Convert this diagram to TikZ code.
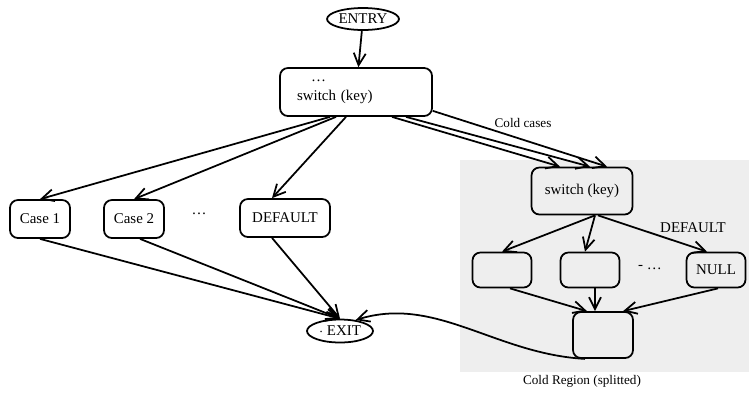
\documentclass[tikz,border=0pt]{standalone}
\usepackage{fontspec}
\setmainfont{Liberation Serif}
\usetikzlibrary{arrows.meta, calc, shapes.geometric}

\begin{document}
\begin{tikzpicture}[x=0.02cm, y=-0.02cm,
	box/.style={draw, line width=1pt, rounded corners=4.5pt, minimum width=1.2cm,
		minimum height=0.76cm, inner sep=1pt, font=\fontsize{8.5}{10}\selectfont},
	oval/.style={draw, line width=1pt, ellipse, inner sep=0pt, font=\fontsize{8.5}{10}\selectfont},
	arr/.style={line width=1pt, -{Straight Barb[length=2.4mm, width=2.4mm]}},
	lbl/.style={font=\fontsize{7.5}{9}\selectfont, inner sep=1pt}]
	% Picture size in pixels of the reference (edit to taste)
	\def\picw{749}
	\def\pich{393}
	\useasboundingbox (0,0) rectangle (\picw,\pich);
	
	% Cold region background
	\fill[gray!13] (460,160) rectangle (\picw,372);
	
	% Hot part
	\node[oval, minimum width=1.44cm, minimum height=0.44cm] (entry) at (363,19) {ENTRY};
	\node[box, minimum width=3.04cm, minimum height=0.96cm, text width=2.36cm, align=left]
		(sw) at (356,92) {\hspace*{8pt}\ldots\\[1pt]switch (key)};
	\node[box] (caseone) at (40,219) {Case 1};
	\node[box] (casetwo) at (134,219) {Case 2};
	\node[box, minimum width=1.8cm] (dflt) at (285,218) {DEFAULT};
	\node[oval, minimum width=1.32cm, minimum height=0.46cm] (exit) at (340,331) {$\cdot$ EXIT};
	\node[font=\fontsize{8.5}{10}\selectfont] (dots) at (199,214) {\ldots};
	
	% Cold part
	\node[box, minimum width=2.02cm, minimum height=0.94cm] (csw) at (582,191) {switch (key)};
	\node[box, minimum width=1.18cm, minimum height=0.7cm] (ca) at (502,270) {};
	\node[box, minimum width=1.18cm, minimum height=0.7cm] (cb) at (590,270) {};
	\node[box, minimum width=1.18cm, minimum height=0.7cm] (cnull) at (716,270) {NULL};
	\node[box, minimum width=1.2cm, minimum height=0.92cm] (cbot) at (603,335) {};
	\node[font=\fontsize{8.5}{10}\selectfont] (cdots) at (650,268) {- \ldots};
	\node[lbl, font=\fontsize{8.5}{10}\selectfont] (cdef) at (693,228) {DEFAULT};
	\node[lbl] (cold) at (582,381) {Cold Region (splitted)};
	\node[lbl] (coldcases) at (523,123) {Cold cases};
	
	% Edges
	\draw[arr] (entry) -- (sw);
	\draw[arr] ($(sw.south)+(-26,0)$) -- (caseone.north);
	\draw[arr] ($(sw.south)+(-20,0)$) -- (casetwo.north);
	\draw[arr] ($(sw.south)+(-10,0)$) -- ($(dflt.north)+(-13,0)$);
	\draw[arr] ($(sw.south)+(36,0)$) -- ($(csw.north)+(-22,0)$);
	\draw[arr] ($(sw.south)+(50,0)$) -- ($(csw.north)+(8,0)$);
	\draw[arr] ($(sw.south east)+(0,-6)$) -- ($(csw.north)+(25,0)$);
	
	\draw[arr] (caseone.south) -- (exit.north);
	\draw[arr] ($(casetwo.south)+(6,0)$) -- (exit.north);
	\draw[arr] ($(dflt.south)+(-13,0)$) -- (exit.north);
	
	\draw[arr] ($(csw.south)+(13,0)$) -- (ca.north);
	\draw[arr] ($(csw.south)+(13,0)$) -- ($(cb.north)+(-5,0)$);
	\draw[arr] ($(csw.south)+(16,0)$) -- ($(cnull.north)+(-9,0)$);
	\draw[arr] ($(ca.south)+(8,0)$) -- ($(cbot.north)+(-16,0)$);
	\draw[arr] ($(cb.south)+(5,0)$) -- ($(cbot.north)+(-8,0)$);
	\draw[arr] ($(cnull.south)+(2,0)$) -- ($(cbot.north)+(20,0)$);
	
	\draw[arr] ($(cbot.south)+(-18,0)$) .. controls +(-90,-5) and +(80,-25) .. (exit.35);
\end{tikzpicture}
\end{document}
